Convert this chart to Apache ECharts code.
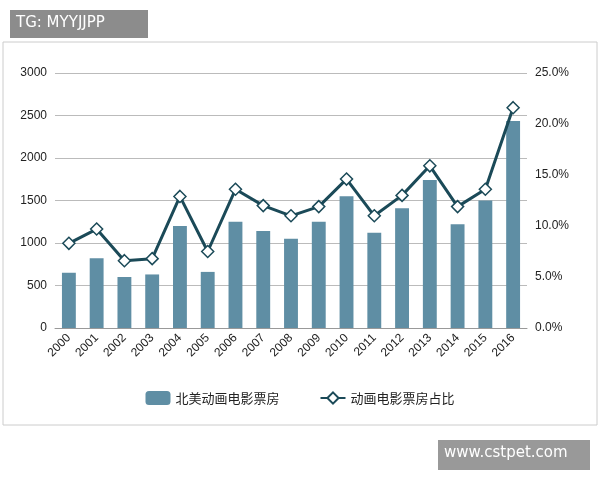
<!DOCTYPE html>
<html><head><meta charset="utf-8">
<script src="https://cdn.jsdelivr.net/npm/echarts@6/dist/echarts.min.js"></script>
<style>html,body{margin:0;padding:0;background:#fff;}#c{width:600px;height:480px;}</style>
</head><body><div id="c"></div>
<script>
const years=['2000','2001','2002','2003','2004','2005','2006','2007','2008','2009','2010','2011','2012','2013','2014','2015','2016'];
const boxOffice=[650,820,600,630,1200,660,1250,1140,1050,1250,1550,1120,1410,1740,1220,1500,2435];
const share=[8.3,9.7,6.6,6.8,12.9,7.5,13.6,12.0,11.0,11.9,14.6,11.0,13.0,15.9,11.9,13.6,21.6];
const chart=echarts.init(document.getElementById('c'));
chart.setOption({
  animation:false,
  graphic:[
    {type:'rect',shape:{x:3,y:42,width:594,height:383},style:{fill:'#fff',stroke:'#ccc',lineWidth:1},z:-10},
    {type:'rect',shape:{x:10,y:10,width:138,height:28},style:{fill:'#8c8c8c'}},
    {type:'text',left:16,top:16,style:{text:'TG: MYYJJPP',fill:'#fff',font:'15px "DejaVu Sans"'}},
    {type:'rect',shape:{x:438,y:440,width:152,height:30},style:{fill:'#999'}},
    {type:'text',left:444,top:446,style:{text:'www.cstpet.com',fill:'#fff',font:'15px "DejaVu Sans"'}}
  ],
  grid:{left:55,right:73,top:73,bottom:152},
  legend:{bottom:70,itemGap:40,textStyle:{fontSize:13,color:'#222',fontFamily:'Noto Sans CJK SC'},
    data:[{name:'北美动画电影票房'},{name:'动画电影票房占比'}]},
  xAxis:{type:'category',data:years,axisTick:{show:false},axisLine:{lineStyle:{color:'#999'}},
    axisLabel:{rotate:45,color:'#222',fontSize:12,interval:0}},
  yAxis:[
    {type:'value',min:0,max:3000,interval:500,axisLine:{show:false},axisTick:{show:false},
      axisLabel:{color:'#222',fontSize:12,formatter:v=>String(v)},splitLine:{lineStyle:{color:'#bbb'}}},
    {type:'value',min:0,max:25,interval:5,axisLine:{show:false},axisTick:{show:false},
      axisLabel:{color:'#222',fontSize:12,formatter:v=>v.toFixed(1)+'%'},splitLine:{show:false}}
  ],
  series:[
    {name:'北美动画电影票房',type:'bar',data:boxOffice,barWidth:'50%',itemStyle:{color:'#5f8ea4'}},
    {name:'动画电影票房占比',type:'line',yAxisIndex:1,data:share,symbol:'diamond',symbolSize:12,
      lineStyle:{color:'#1b4a58',width:3},itemStyle:{color:'#fff',borderColor:'#1b4a58',borderWidth:1.5}}
  ]
});
</script></body></html>
